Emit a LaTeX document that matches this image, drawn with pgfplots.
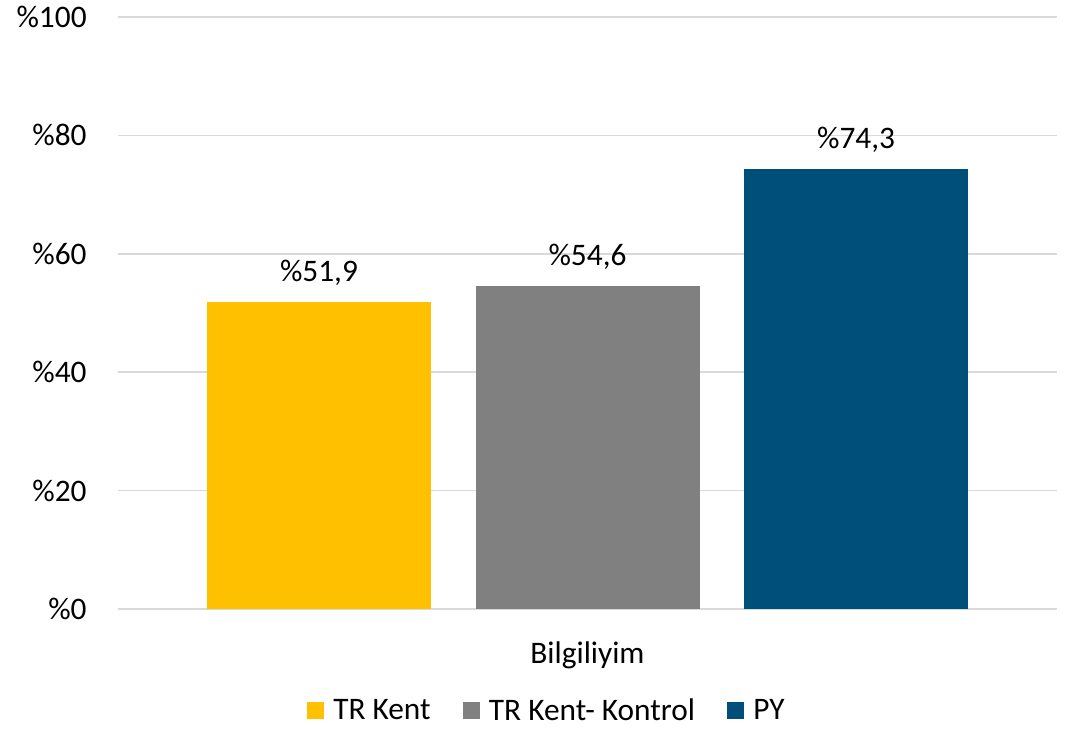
\documentclass[border=0pt]{standalone}
\usepackage{fontspec}
\setmainfont{Carlito}
\usepackage{pgfplots}
\pgfplotsset{compat=1.18}
\definecolor{cyel}{HTML}{FFC000}
\definecolor{cgry}{HTML}{808080}
\definecolor{cblu}{HTML}{004F7A}
\definecolor{cgrid}{HTML}{D9D9D9}
\begin{document}
\begin{tikzpicture}
\useasboundingbox (-88.5pt,-90pt) rectangle (713.25pt,456.75pt);
\begin{axis}[
  at={(0,0)}, anchor=south west,
  scale only axis, width=704.25pt, height=444pt,
  ybar, bar width=168pt,
  xmin=-1, xmax=1, ymin=0, ymax=100,
  xtick={0}, xticklabels={Bilgiliyim},
  ytick={0,20,40,60,80,100},
  yticklabel={\%\pgfmathprintnumber{\tick}},
  /pgf/number format/assume math mode=true,
  ymajorgrids, grid style={cgrid, line width=1.2pt},
  axis line style={draw=none},
  axis x line*=bottom,
  x axis line style={draw=cgrid, line width=1.2pt},
  major tick length=0pt,
  tick label style={font=\fontsize{23.5}{28}\selectfont},
  yticklabel style={xshift=-20pt},
  xticklabel style={yshift=-21pt},
  nodes near coords={\%\pgfmathprintnumber[fixed,fixed zerofill,precision=1,use comma]{\pgfplotspointmeta}},
  nodes near coords style={font=\fontsize{23.5}{28}\selectfont, yshift=9pt},
  legend style={at={(0.457,-0.172)}, anchor=center, draw=none, legend columns=-1,
    font=\fontsize{23.5}{28}\selectfont, inner sep=1pt,
    /tikz/every odd column/.append style={column sep=5pt},
    /tikz/every even column/.append style={column sep=22pt}},
  legend image code/.code={\fill[#1] (0pt,-6pt) rectangle (12.75pt,6.75pt);},
]
\addplot[fill=cyel, draw=none, bar shift=-201.4pt] coordinates {(0,51.9)};
\addplot[fill=cgry, draw=none, bar shift=0pt] coordinates {(0,54.6)};
\addplot[fill=cblu, draw=none, bar shift=201.4pt] coordinates {(0,74.3)};
\legend{TR Kent, TR Kent- Kontrol, PY}
\end{axis}
\end{tikzpicture}
\end{document}
